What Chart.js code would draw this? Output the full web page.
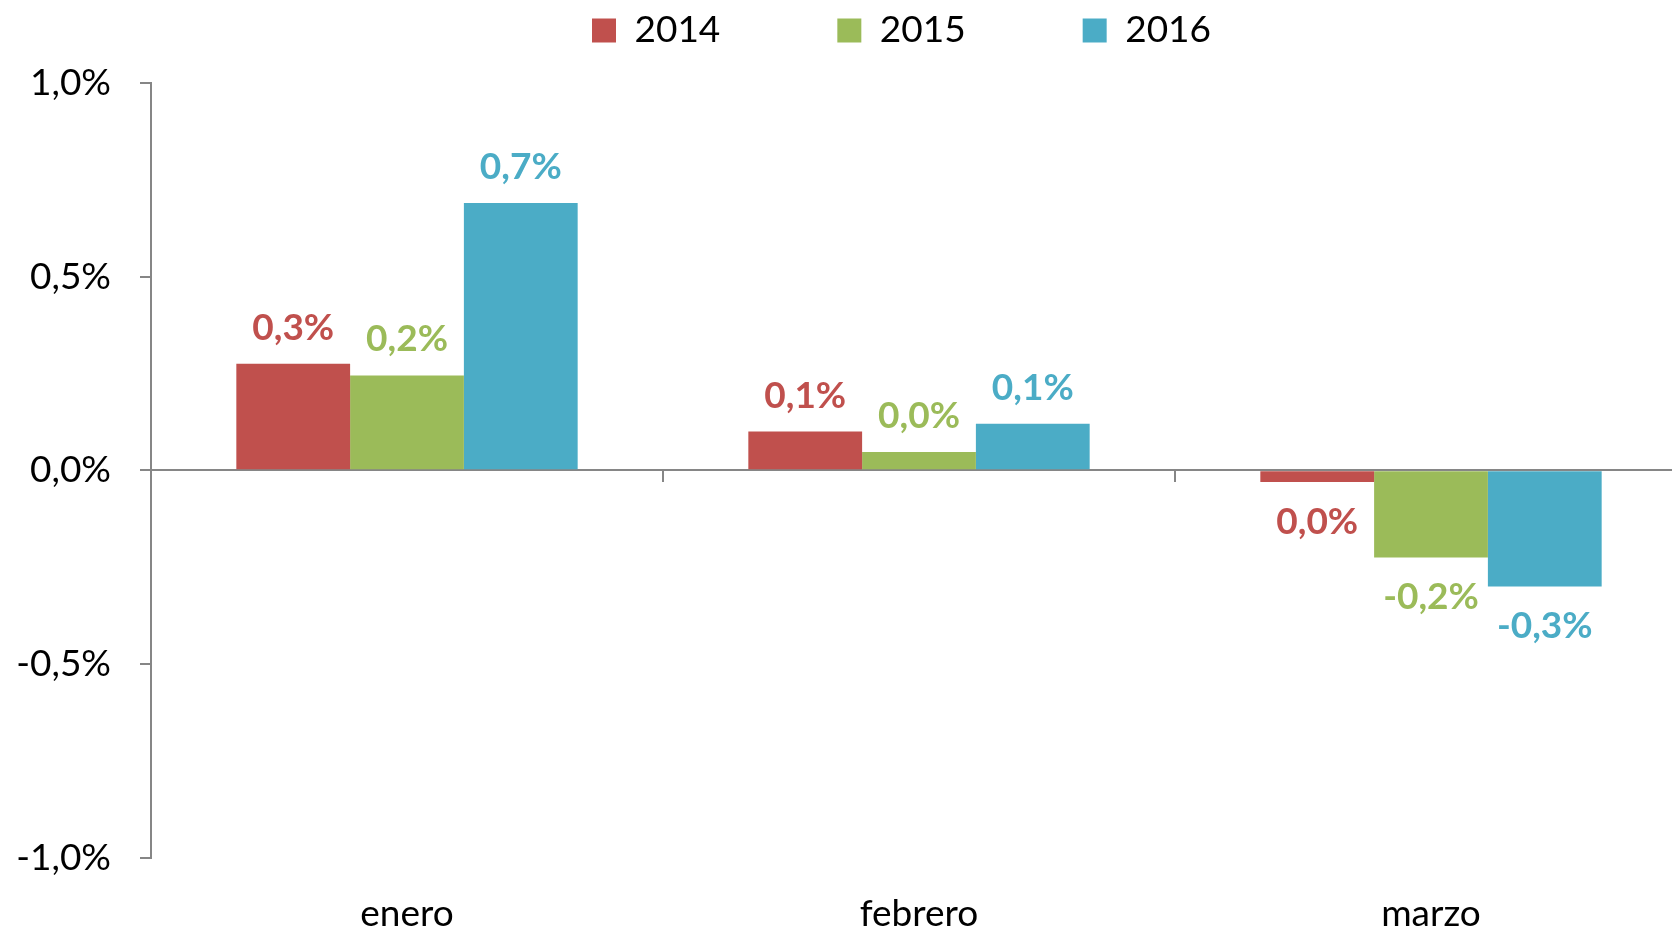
<!DOCTYPE html>
<html>
<head>
<meta charset="utf-8">
<script src="https://cdn.jsdelivr.net/npm/chart.js@4.4.0/dist/chart.umd.min.js"></script>
<style>
  html, body { margin: 0; padding: 0; background: #fff; overflow: hidden; }
  #wrap { position: relative; width: 1700px; height: 930px; }
</style>
</head>
<body>
<div id="wrap"><canvas id="chart"></canvas></div>
<script>
// --- Data (percent) ---
const months = ['enero', 'febrero', 'marzo'];
const years = ['2014', '2015', '2016'];
const values2014 = [0.275, 0.10, -0.03];
const values2015 = [0.245, 0.047, -0.225];
const values2016 = [0.69, 0.12, -0.30];
const seriesColors = ['#C0504D', '#9BBB59', '#4BACC6'];
const yMin = -1, yMax = 1, yStep = 0.5;

const axisGray = '#868686';
// the legend sits a little right of centre and higher than Chart.js puts it
const legendShiftX = 53;
const legendShiftY = -24;
Chart.defaults.font.family = 'Lato, "Open Sans", sans-serif';

// "0,3%" style, and no "-0,0%"
const pct = (v) => (Math.round(v * 10) / 10).toFixed(1).replace('.', ',') + '%';

// value labels above / below each bar
const barLabels = {
  id: 'barLabels',
  afterLayout(chart) {
    const l = chart.legend;
    if (l) {
      l.left += legendShiftX; l.right += legendShiftX;
      l.top += legendShiftY; l.bottom += legendShiftY;
    }
  },
  afterDatasetsDraw(chart) {
    const ctx = chart.ctx;
    ctx.save();
    ctx.font = 'bold 37px Lato, "Open Sans", sans-serif';
    ctx.textAlign = 'center';
    ctx.textBaseline = 'middle';
    chart.data.datasets.forEach((ds, i) => {
      chart.getDatasetMeta(i).data.forEach((bar, j) => {
        const v = ds.data[j];
        ctx.fillStyle = ds.backgroundColor;
        ctx.fillText(pct(v), bar.x, v >= 0 ? bar.y - 36 : bar.y + 40);
      });
    });
    ctx.restore();
  }
};

const allValues = [values2014, values2015, values2016];

new Chart(document.getElementById('chart'), {
  type: 'bar',
  data: {
    labels: months,
    datasets: years.map((y, i) => ({
      label: y,
      data: allValues[i],
      backgroundColor: seriesColors[i],
      borderWidth: 0,
      xAxisID: 'x',
      yAxisID: 'y',
      categoryPercentage: 2 / 3,
      barPercentage: 1
    }))
  },
  options: {
    responsive: true,
    maintainAspectRatio: false,
    animation: false,
    layout: { padding: { top: -105, left: 10, right: 13, bottom: -32 } },
    plugins: {
      legend: {
        position: 'top',
        labels: {
          boxWidth: 24,
          boxHeight: 24,
          padding: 117,
          color: '#000',
          font: { size: 37 }
        }
      },
      tooltip: { enabled: false }
    },
    scales: {
      // zero line with the category separators
      x: {
        position: { y: 0 },
        offset: true,
        grid: { offset: true, drawOnChartArea: false, tickLength: 11, color: axisGray, lineWidth: 2 },
        border: { color: axisGray, width: 2 },
        ticks: { display: false }
      },
      // month names along the bottom
      x2: {
        type: 'category',
        position: 'bottom',
        offset: true,
        grid: { display: false },
        border: { display: false },
        ticks: { color: '#000', font: { size: 37 }, padding: 26, maxRotation: 0 }
      },
      y: {
        min: yMin,
        max: yMax,
        ticks: {
          stepSize: yStep,
          color: '#000',
          font: { size: 37 },
          padding: 29,
          callback: (v) => v.toFixed(1).replace('.', ',') + '%'
        },
        grid: { drawOnChartArea: false, tickLength: 11, color: axisGray, lineWidth: 2 },
        border: { color: axisGray, width: 2 },
        afterFit(scale) {
          scale.width = 141;
          scale.paddingTop = 83;
        }
      }
    }
  },
  plugins: [barLabels]
});
</script>
</body>
</html>
